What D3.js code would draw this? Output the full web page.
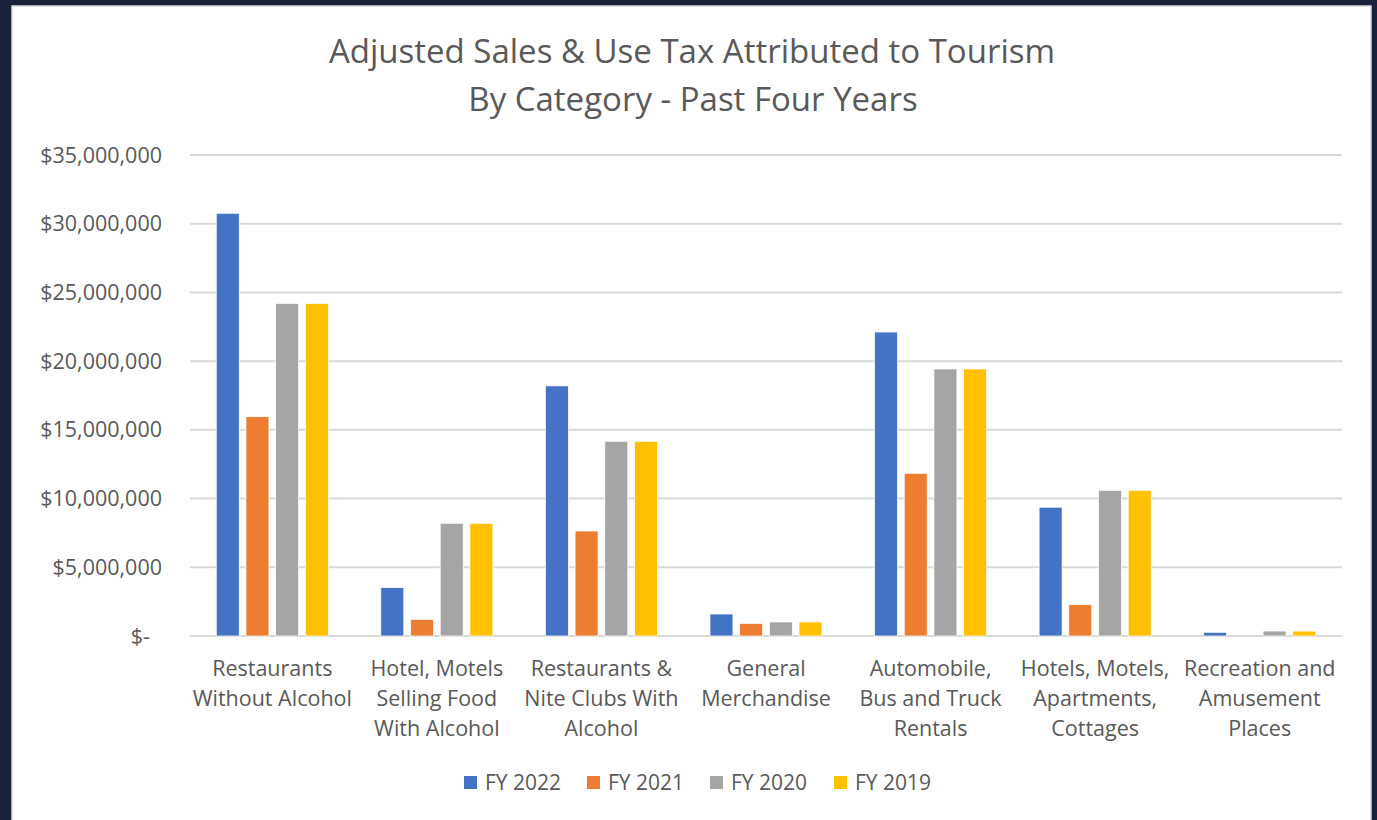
<!DOCTYPE html>
<html>
<head>
<meta charset="utf-8">
<script src="https://cdn.jsdelivr.net/npm/d3@7"></script>
<style>
  html, body { margin: 0; padding: 0; background: #18223a; }
  svg { display: block; }
  text { font-family: "Open Sans", Lato, sans-serif; fill: #595959; }
</style>
</head>
<body>
<div id="chart"></div>
<script>
// data
const categories = [
  ["Restaurants", "Without Alcohol"],
  ["Hotel, Motels", "Selling Food", "With Alcohol"],
  ["Restaurants &", "Nite Clubs With", "Alcohol"],
  ["General", "Merchandise"],
  ["Automobile,", "Bus and Truck", "Rentals"],
  ["Hotels, Motels,", "Apartments,", "Cottages"],
  ["Recreation and", "Amusement", "Places"]
];
const seriesNames = ["FY 2022", "FY 2021", "FY 2020", "FY 2019"];
const fy2022 = [30760000, 3520000, 18200000, 1600000, 22120000, 9370000, 270000];
const fy2021 = [15960000, 1210000, 7640000, 920000, 11840000, 2280000, 0];
const fy2020 = [24200000, 8200000, 14170000, 1020000, 19430000, 10600000, 360000];
const fy2019 = [24200000, 8200000, 14170000, 1020000, 19430000, 10600000, 360000];
const yTicks = [0, 5000000, 10000000, 15000000, 20000000, 25000000, 30000000, 35000000];
const colors = ["#4472C4", "#ED7D31", "#A5A5A5", "#FFC000"];

const seriesValues = [fy2022, fy2021, fy2020, fy2019];
const catKeys = categories.map((c, i) => i);

const W = 1377, H = 820;
const svg = d3.select("#chart").append("svg")
  .attr("width", W).attr("height", H);

// white card
svg.append("rect")
  .attr("x", 12).attr("y", 6).attr("width", 1359).attr("height", 830)
  .attr("fill", "#ffffff").attr("stroke", "#d9d9d9").attr("stroke-width", 1.5);

const plot = {left: 190, right: 1342, top: 155, bottom: 636};

const x = d3.scaleBand().domain(catKeys).range([plot.left, plot.right]);
const xSub = d3.scaleBand().domain(seriesNames)
  .range([0, x.bandwidth()]).paddingInner(0.226).paddingOuter(0.884);
const y = d3.scaleLinear().domain([0, 35000000]).range([plot.bottom, plot.top]);

// gridlines
svg.append("g").selectAll("line")
  .data(yTicks)
  .join("line")
    .attr("x1", plot.left).attr("x2", plot.right)
    .attr("y1", d => y(d)).attr("y2", d => y(d))
    .attr("stroke", "#d9d9d9").attr("stroke-width", 2);

// y axis labels
const fmt = d3.format(",");
svg.append("g").selectAll("text")
  .data(yTicks)
  .join("text")
    .attr("x", d => d === 0 ? 150 : 162)
    .attr("y", d => y(d))
    .attr("dy", "0.35em")
    .attr("text-anchor", "end")
    .style("font-size", "21.5px")
    .text(d => d === 0 ? "$-" : "$" + fmt(d));

// bars
const groups = svg.append("g").selectAll("g")
  .data(catKeys)
  .join("g")
    .attr("transform", d => `translate(${x(d)},0)`);

groups.selectAll("rect")
  .data(ci => seriesNames.map((s, si) => ({s, si, v: seriesValues[si][ci]})))
  .join("rect")
    .attr("x", d => xSub(d.s))
    .attr("y", d => y(d.v))
    .attr("width", xSub.bandwidth())
    .attr("height", d => y(0) - y(d.v))
    .attr("fill", d => colors[d.si])
    .attr("stroke", "#ffffff").attr("stroke-width", 0.75);

// category labels
svg.append("g").selectAll("text")
  .data(catKeys)
  .join("text")
    .attr("x", d => x(d) + x.bandwidth() / 2)
    .attr("y", 676)
    .attr("text-anchor", "middle")
    .style("font-size", "21.5px")
    .each(function(d) {
      d3.select(this).selectAll("tspan")
        .data(categories[d])
        .join("tspan")
          .attr("x", x(d) + x.bandwidth() / 2)
          .attr("dy", (t, i) => i === 0 ? 0 : 30)
          .text(t => t);
    });

// title
const title = svg.append("text")
  .attr("x", 692).attr("y", 63)
  .attr("text-anchor", "middle")
  .style("font-size", "33px");
title.append("tspan").attr("x", 692).text("Adjusted Sales & Use Tax Attributed to Tourism");
title.append("tspan").attr("x", 693).attr("dy", 48).text("By Category - Past Four Years");

// legend
const legendX = [464, 587, 710, 834];
const legend = svg.append("g").selectAll("g")
  .data(seriesNames)
  .join("g")
    .attr("transform", (d, i) => `translate(${legendX[i]},776)`);
legend.append("rect")
  .attr("width", 13).attr("height", 13)
  .attr("fill", (d, i) => colors[i]);
legend.append("text")
  .attr("x", 21).attr("y", 6.5).attr("dy", "0.36em")
  .style("font-size", "21px")
  .text(d => d);
</script>
</body>
</html>
